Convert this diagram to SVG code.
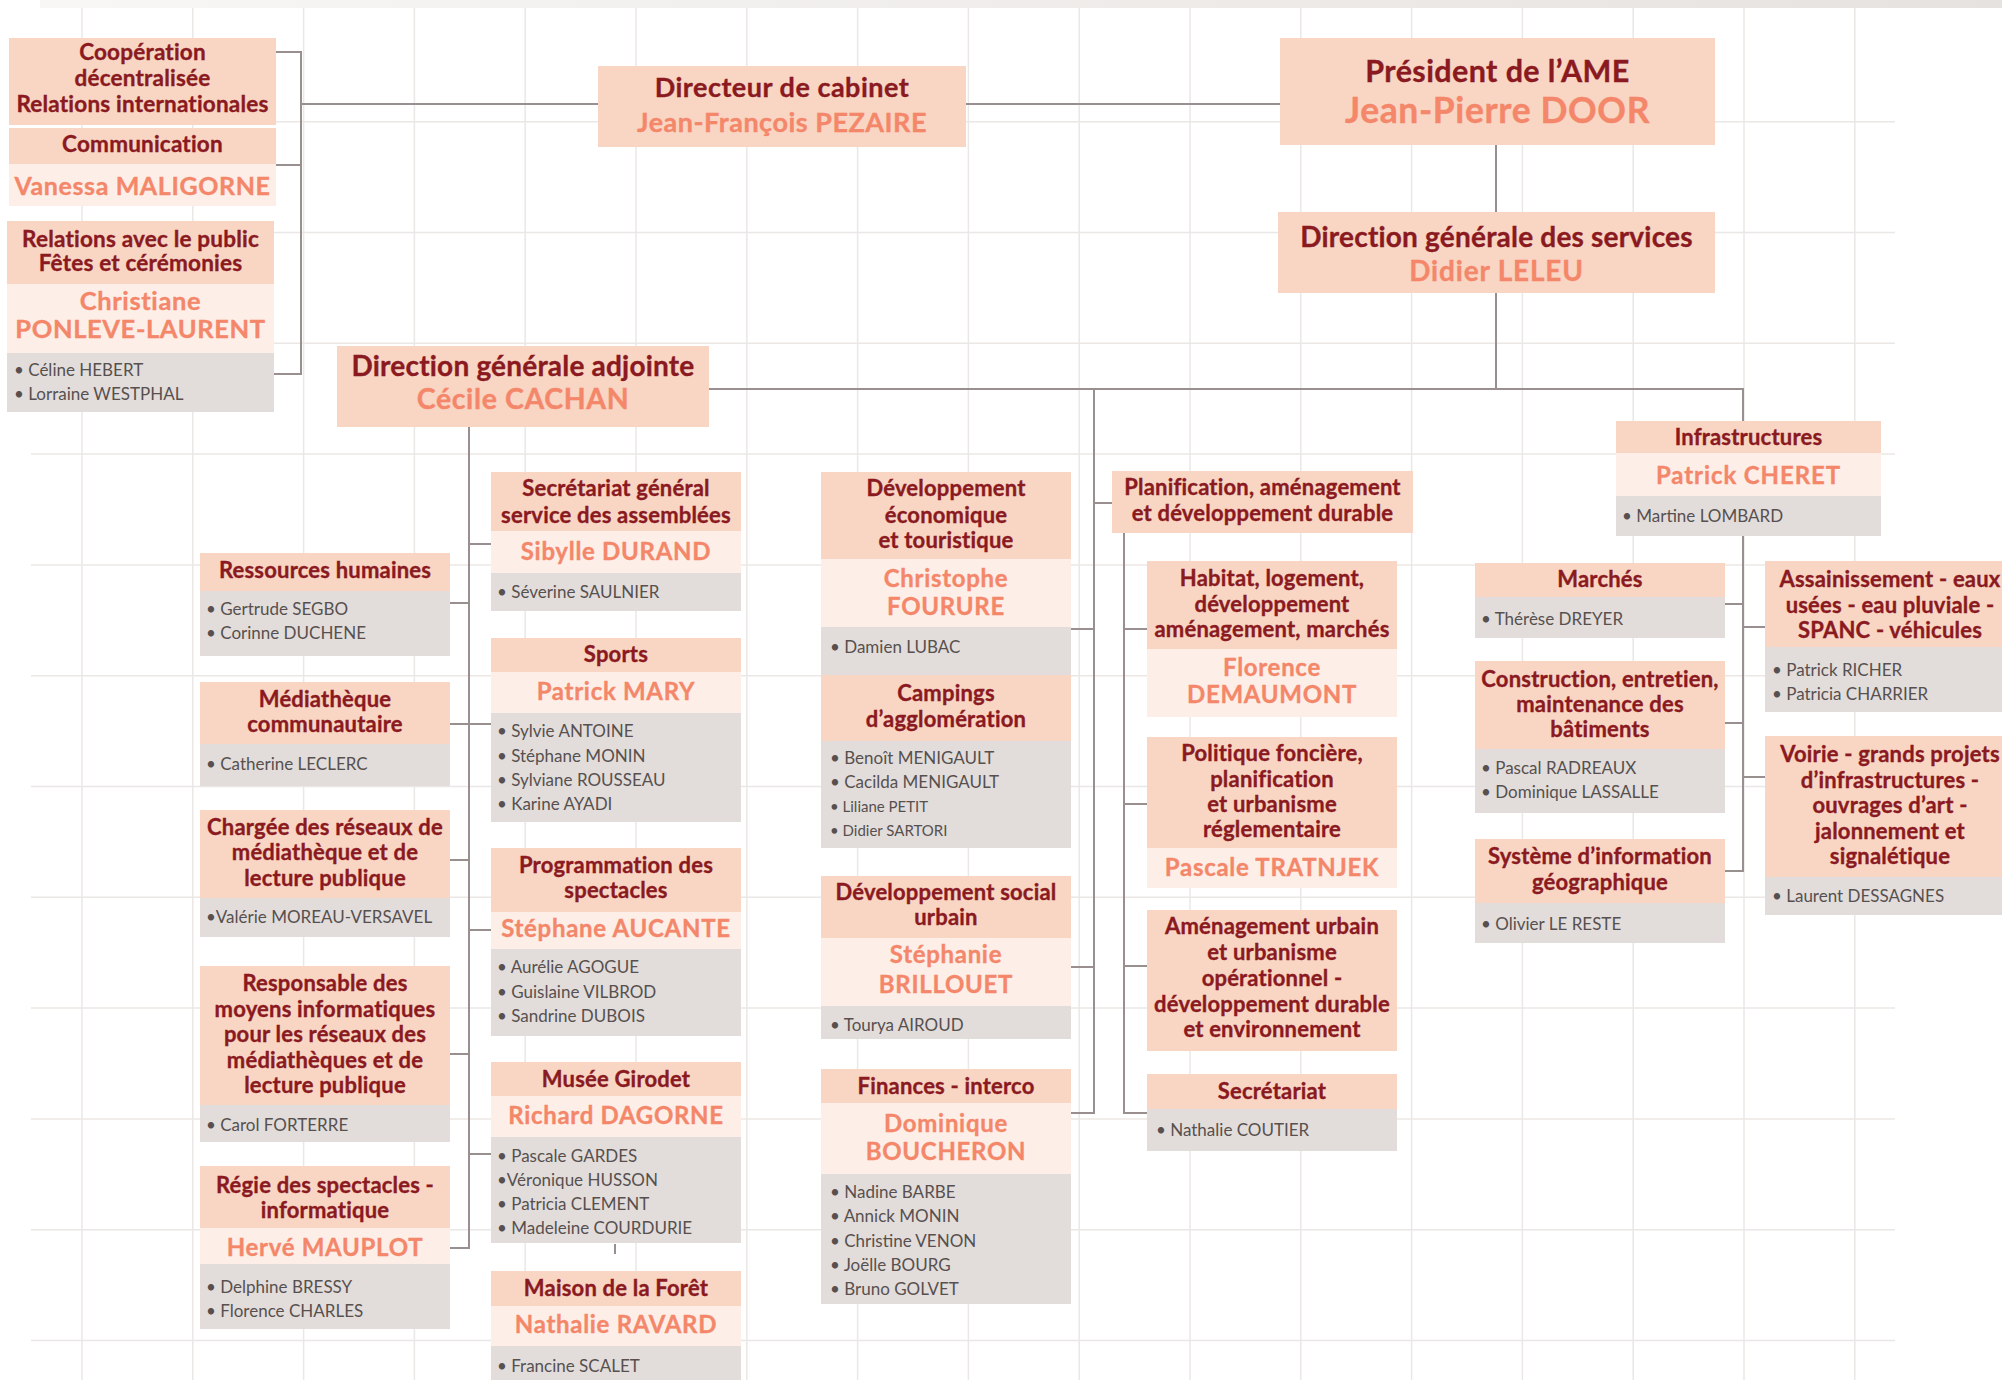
<svg xmlns="http://www.w3.org/2000/svg" width="2002" height="1380" viewBox="0 0 2002 1380">
<defs>
<linearGradient id="topband" x1="0" y1="0" x2="1" y2="0">
<stop offset="0" stop-color="#f8f7f6"/>
<stop offset="1" stop-color="#e6e2df"/>
</linearGradient>
</defs>
<style>
.h{fill:#f9d5c4}
.n{fill:#fdefe8}
.s{fill:#e2dddb}
.t{font-family:Lato,"Liberation Sans",sans-serif;font-weight:700;font-size:22px;letter-spacing:0.2px;fill:#8a1a1f;stroke:#8a1a1f;stroke-width:0.35px;text-anchor:middle}
.nm{font-family:Lato,"Liberation Sans",sans-serif;font-weight:700;font-size:24px;letter-spacing:0.7px;fill:#f4876a;stroke:#f4876a;stroke-width:0.35px;text-anchor:middle}
.st{font-family:Lato,"Liberation Sans",sans-serif;font-weight:400;font-size:17px;fill:#57504f}
.sm{font-size:15px}
.c{stroke:#9a8f8f;stroke-width:2;fill:none}
.g{stroke:#ebe7e5;stroke-width:1.5}
</style>
<rect x="0" y="0" width="2002" height="1380" fill="#ffffff"/>
<rect x="40" y="0" width="1962" height="8" fill="url(#topband)"/>
<g id="grid">
<line class="g" x1="82" y1="8" x2="82" y2="1380"/>
<line class="g" x1="192.8" y1="8" x2="192.8" y2="1380"/>
<line class="g" x1="303.6" y1="8" x2="303.6" y2="1380"/>
<line class="g" x1="414.4" y1="8" x2="414.4" y2="1380"/>
<line class="g" x1="525.2" y1="8" x2="525.2" y2="1380"/>
<line class="g" x1="636" y1="8" x2="636" y2="1380"/>
<line class="g" x1="746.8" y1="8" x2="746.8" y2="1380"/>
<line class="g" x1="857.6" y1="8" x2="857.6" y2="1380"/>
<line class="g" x1="968.4" y1="8" x2="968.4" y2="1380"/>
<line class="g" x1="1079.2" y1="8" x2="1079.2" y2="1380"/>
<line class="g" x1="1190" y1="8" x2="1190" y2="1380"/>
<line class="g" x1="1300.8" y1="8" x2="1300.8" y2="1380"/>
<line class="g" x1="1411.6" y1="8" x2="1411.6" y2="1380"/>
<line class="g" x1="1522.4" y1="8" x2="1522.4" y2="1380"/>
<line class="g" x1="1633.2" y1="8" x2="1633.2" y2="1380"/>
<line class="g" x1="1744" y1="8" x2="1744" y2="1380"/>
<line class="g" x1="1854.8" y1="8" x2="1854.8" y2="1380"/>
<line class="g" x1="31" y1="121.7" x2="1895" y2="121.7"/>
<line class="g" x1="31" y1="232.5" x2="1895" y2="232.5"/>
<line class="g" x1="31" y1="343.3" x2="1895" y2="343.3"/>
<line class="g" x1="31" y1="454.1" x2="1895" y2="454.1"/>
<line class="g" x1="31" y1="564.9" x2="1895" y2="564.9"/>
<line class="g" x1="31" y1="675.7" x2="1895" y2="675.7"/>
<line class="g" x1="31" y1="786.5" x2="1895" y2="786.5"/>
<line class="g" x1="31" y1="897.3" x2="1895" y2="897.3"/>
<line class="g" x1="31" y1="1008.1" x2="1895" y2="1008.1"/>
<line class="g" x1="31" y1="1118.9" x2="1895" y2="1118.9"/>
<line class="g" x1="31" y1="1229.7" x2="1895" y2="1229.7"/>
<line class="g" x1="31" y1="1340.5" x2="1895" y2="1340.5"/>
</g>
<g id="connectors">
<path class="c" d="M276,52 H301 V374 H274 M276,165 H301 M301,104 H598 M966,104 H1280"/>
<path class="c" d="M1496,145 V212 M1496,293 V389 M709,389 H1743 V421"/>
<path class="c" d="M469,427 V1248 H450 M450,603 H469 M469,544 H491 M450,724 H491 M450,860 H469 M469,930 H491 M450,1054 H469 M469,1154 H491 M615,1244 V1254"/>
<path class="c" d="M1094,389 V1113 H1071 M1071,629 H1094 M1071,967 H1094 M1094,503 H1112"/>
<path class="c" d="M1124,533 V1113 H1147 M1124,629 H1147 M1124,804 H1147 M1124,966 H1147"/>
<path class="c" d="M1743,536 V871 H1725 M1725,604 H1743 M1725,723 H1743 M1743,627 H1765 M1743,777 H1765"/>
</g>
<g id="cooperation">
<rect class="h" x="9" y="38" width="267" height="87"/>
<text class="t" x="142.5" y="60" style="font-size:22.5px">Coopération</text>
<text class="t" x="142.5" y="86" style="font-size:22.5px">décentralisée</text>
<text class="t" x="142.5" y="112" style="font-size:22.5px">Relations internationales</text>
</g>
<g id="communication">
<rect class="h" x="9" y="128" width="267" height="36"/>
<text class="t" x="142.5" y="152" style="font-size:22.5px">Communication</text>
<rect class="n" x="9" y="164" width="267" height="42"/>
<text class="nm" x="142.5" y="195" style="font-size:25px;letter-spacing:0.6px">Vanessa MALIGORNE</text>
</g>
<g id="relations-public">
<rect class="h" x="7" y="221" width="267" height="63"/>
<text class="t" x="140.5" y="247" style="font-size:22.5px">Relations avec le public</text>
<text class="t" x="140.5" y="271" style="font-size:22.5px">Fêtes et cérémonies</text>
<rect class="n" x="7" y="284" width="267" height="69"/>
<text class="nm" x="140.5" y="310" style="font-size:25.5px;letter-spacing:0.6px">Christiane</text>
<text class="nm" x="140.5" y="338" style="font-size:25.5px;letter-spacing:0.6px">PONLEVE-LAURENT</text>
<rect class="s" x="7" y="353" width="267" height="59"/>
<text class="st" x="14" y="376">• Céline HEBERT</text>
<text class="st" x="14" y="400">• Lorraine WESTPHAL</text>
</g>
<g id="directeur-cabinet">
<rect class="h" x="598" y="66" width="368" height="81"/>
<text class="t" x="782" y="97" style="font-size:27px;letter-spacing:0.5px">Directeur de cabinet</text>
<text class="nm" x="782" y="132" style="font-size:27px;letter-spacing:0.5px">Jean-François PEZAIRE</text>
</g>
<g id="president">
<rect class="h" x="1280" y="38" width="435" height="107"/>
<text class="t" x="1497.5" y="82" style="font-size:30.5px;letter-spacing:0.4px">Président de l’AME</text>
<text class="nm" x="1497.5" y="123" style="font-size:35.5px;letter-spacing:0.6px">Jean-Pierre DOOR</text>
</g>
<g id="dgs">
<rect class="h" x="1278" y="212" width="437" height="81"/>
<text class="t" x="1496.5" y="247" style="font-size:28px;letter-spacing:0.2px">Direction générale des services</text>
<text class="nm" x="1496.5" y="281" style="font-size:28px;letter-spacing:0.8px">Didier LELEU</text>
</g>
<g id="dga">
<rect class="h" x="337" y="346" width="372" height="81"/>
<text class="t" x="523" y="376" style="font-size:28px;letter-spacing:0.2px">Direction générale adjointe</text>
<text class="nm" x="523" y="409" style="font-size:28.5px;letter-spacing:0.6px">Cécile CACHAN</text>
</g>
<g id="rh">
<rect class="h" x="200" y="553" width="250" height="38"/>
<text class="t" x="325" y="578">Ressources humaines</text>
<rect class="s" x="200" y="591" width="250" height="65"/>
<text class="st" x="206" y="615">• Gertrude SEGBO</text>
<text class="st" x="206" y="639">• Corinne DUCHENE</text>
</g>
<g id="mediatheque">
<rect class="h" x="200" y="682" width="250" height="62"/>
<text class="t" x="325" y="707">Médiathèque</text>
<text class="t" x="325" y="732">communautaire</text>
<rect class="s" x="200" y="744" width="250" height="42"/>
<text class="st" x="206" y="770">• Catherine LECLERC</text>
</g>
<g id="chargee-reseaux">
<rect class="h" x="200" y="810" width="250" height="88"/>
<text class="t" x="325" y="835">Chargée des réseaux de</text>
<text class="t" x="325" y="860">médiathèque et de</text>
<text class="t" x="325" y="886">lecture publique</text>
<rect class="s" x="200" y="898" width="250" height="39"/>
<text class="st" x="206" y="923">•Valérie MOREAU-VERSAVEL</text>
</g>
<g id="responsable-informatique">
<rect class="h" x="200" y="966" width="250" height="139"/>
<text class="t" x="325" y="991">Responsable des</text>
<text class="t" x="325" y="1017">moyens informatiques</text>
<text class="t" x="325" y="1042">pour les réseaux des</text>
<text class="t" x="325" y="1068">médiathèques et de</text>
<text class="t" x="325" y="1093">lecture publique</text>
<rect class="s" x="200" y="1105" width="250" height="37"/>
<text class="st" x="206" y="1131">• Carol FORTERRE</text>
</g>
<g id="regie">
<rect class="h" x="200" y="1166" width="250" height="62"/>
<text class="t" x="325" y="1193">Régie des spectacles -</text>
<text class="t" x="325" y="1218">informatique</text>
<rect class="n" x="200" y="1228" width="250" height="36"/>
<text class="nm" x="325" y="1256">Hervé MAUPLOT</text>
<rect class="s" x="200" y="1264" width="250" height="65"/>
<text class="st" x="206" y="1293">• Delphine BRESSY</text>
<text class="st" x="206" y="1317">• Florence CHARLES</text>
</g>
<g id="secretariat-general">
<rect class="h" x="491" y="472" width="250" height="59"/>
<text class="t" x="616" y="496">Secrétariat général</text>
<text class="t" x="616" y="523">service des assemblées</text>
<rect class="n" x="491" y="531" width="250" height="42"/>
<text class="nm" x="616" y="560">Sibylle DURAND</text>
<rect class="s" x="491" y="573" width="250" height="38"/>
<text class="st" x="497" y="598">• Séverine SAULNIER</text>
</g>
<g id="sports">
<rect class="h" x="491" y="638" width="250" height="34"/>
<text class="t" x="616" y="662">Sports</text>
<rect class="n" x="491" y="672" width="250" height="41"/>
<text class="nm" x="616" y="700">Patrick MARY</text>
<rect class="s" x="491" y="713" width="250" height="109"/>
<text class="st" x="497" y="737">• Sylvie ANTOINE</text>
<text class="st" x="497" y="762">• Stéphane MONIN</text>
<text class="st" x="497" y="786">• Sylviane ROUSSEAU</text>
<text class="st" x="497" y="810">• Karine AYADI</text>
</g>
<g id="programmation">
<rect class="h" x="491" y="848" width="250" height="64"/>
<text class="t" x="616" y="873">Programmation des</text>
<text class="t" x="616" y="898">spectacles</text>
<rect class="n" x="491" y="912" width="250" height="37"/>
<text class="nm" x="616" y="937">Stéphane AUCANTE</text>
<rect class="s" x="491" y="949" width="250" height="87"/>
<text class="st" x="497" y="973">• Aurélie AGOGUE</text>
<text class="st" x="497" y="998">• Guislaine VILBROD</text>
<text class="st" x="497" y="1022">• Sandrine DUBOIS</text>
</g>
<g id="musee-girodet">
<rect class="h" x="491" y="1062" width="250" height="34"/>
<text class="t" x="616" y="1087">Musée Girodet</text>
<rect class="n" x="491" y="1096" width="250" height="41"/>
<text class="nm" x="616" y="1124">Richard DAGORNE</text>
<rect class="s" x="491" y="1137" width="250" height="106"/>
<text class="st" x="497" y="1162">• Pascale GARDES</text>
<text class="st" x="497" y="1186">•Véronique HUSSON</text>
<text class="st" x="497" y="1210">• Patricia CLEMENT</text>
<text class="st" x="497" y="1234">• Madeleine COURDURIE</text>
</g>
<g id="maison-foret">
<rect class="h" x="491" y="1271" width="250" height="35"/>
<text class="t" x="616" y="1296">Maison de la Forêt</text>
<rect class="n" x="491" y="1306" width="250" height="40"/>
<text class="nm" x="616" y="1333">Nathalie RAVARD</text>
<rect class="s" x="491" y="1346" width="250" height="40"/>
<text class="st" x="497" y="1372">• Francine SCALET</text>
</g>
<g id="dev-economique">
<rect class="h" x="821" y="472" width="250" height="87"/>
<text class="t" x="946" y="496">Développement</text>
<text class="t" x="946" y="523">économique</text>
<text class="t" x="946" y="548">et touristique</text>
<rect class="n" x="821" y="559" width="250" height="68"/>
<text class="nm" x="946" y="587">Christophe</text>
<text class="nm" x="946" y="615">FOURURE</text>
<rect class="s" x="821" y="627" width="250" height="48"/>
<text class="st" x="830" y="653">• Damien LUBAC</text>
</g>
<g id="campings">
<rect class="h" x="821" y="675" width="250" height="66"/>
<text class="t" x="946" y="701">Campings</text>
<text class="t" x="946" y="727">d’agglomération</text>
<rect class="s" x="821" y="741" width="250" height="107"/>
<text class="st" x="830" y="764">• Benoît MENIGAULT</text>
<text class="st" x="830" y="788">• Cacilda MENIGAULT</text>
<text class="st sm" x="830" y="812">• Liliane PETIT</text>
<text class="st sm" x="830" y="836">• Didier SARTORI</text>
</g>
<g id="dev-social">
<rect class="h" x="821" y="876" width="250" height="62"/>
<text class="t" x="946" y="900">Développement social</text>
<text class="t" x="946" y="925">urbain</text>
<rect class="n" x="821" y="938" width="250" height="68"/>
<text class="nm" x="946" y="963">Stéphanie</text>
<text class="nm" x="946" y="993">BRILLOUET</text>
<rect class="s" x="821" y="1006" width="250" height="33"/>
<text class="st" x="830" y="1031">• Tourya AIROUD</text>
</g>
<g id="finances">
<rect class="h" x="821" y="1069" width="250" height="34"/>
<text class="t" x="946" y="1094">Finances - interco</text>
<rect class="n" x="821" y="1103" width="250" height="71"/>
<text class="nm" x="946" y="1132">Dominique</text>
<text class="nm" x="946" y="1160">BOUCHERON</text>
<rect class="s" x="821" y="1174" width="250" height="130"/>
<text class="st" x="830" y="1198">• Nadine BARBE</text>
<text class="st" x="830" y="1222">• Annick MONIN</text>
<text class="st" x="830" y="1247">• Christine VENON</text>
<text class="st" x="830" y="1271">• Joëlle BOURG</text>
<text class="st" x="830" y="1295">• Bruno GOLVET</text>
</g>
<g id="planification">
<rect class="h" x="1112" y="471" width="301" height="62"/>
<text class="t" x="1262.5" y="495">Planification, aménagement</text>
<text class="t" x="1262.5" y="521">et développement durable</text>
</g>
<g id="habitat">
<rect class="h" x="1147" y="561" width="250" height="88"/>
<text class="t" x="1272" y="586">Habitat, logement,</text>
<text class="t" x="1272" y="612">développement</text>
<text class="t" x="1272" y="637">aménagement, marchés</text>
<rect class="n" x="1147" y="649" width="250" height="68"/>
<text class="nm" x="1272" y="676">Florence</text>
<text class="nm" x="1272" y="703">DEMAUMONT</text>
</g>
<g id="politique-fonciere">
<rect class="h" x="1147" y="737" width="250" height="111"/>
<text class="t" x="1272" y="761">Politique foncière,</text>
<text class="t" x="1272" y="787">planification</text>
<text class="t" x="1272" y="812">et urbanisme</text>
<text class="t" x="1272" y="837">réglementaire</text>
<rect class="n" x="1147" y="848" width="250" height="40"/>
<text class="nm" x="1272" y="876">Pascale TRATNJEK</text>
</g>
<g id="amenagement-urbain">
<rect class="h" x="1147" y="910" width="250" height="141"/>
<text class="t" x="1272" y="934">Aménagement urbain</text>
<text class="t" x="1272" y="960">et urbanisme</text>
<text class="t" x="1272" y="986">opérationnel -</text>
<text class="t" x="1272" y="1012">développement durable</text>
<text class="t" x="1272" y="1037">et environnement</text>
</g>
<g id="secretariat">
<rect class="h" x="1147" y="1074" width="250" height="35"/>
<text class="t" x="1272" y="1099">Secrétariat</text>
<rect class="s" x="1147" y="1109" width="250" height="42"/>
<text class="st" x="1156" y="1136">• Nathalie COUTIER</text>
</g>
<g id="infrastructures">
<rect class="h" x="1616" y="421" width="265" height="32"/>
<text class="t" x="1748.5" y="445">Infrastructures</text>
<rect class="n" x="1616" y="453" width="265" height="43"/>
<text class="nm" x="1748.5" y="484" style="letter-spacing:0.9px">Patrick CHERET</text>
<rect class="s" x="1616" y="496" width="265" height="40"/>
<text class="st" x="1622" y="522">• Martine LOMBARD</text>
</g>
<g id="marches">
<rect class="h" x="1475" y="563" width="250" height="34"/>
<text class="t" x="1600" y="587">Marchés</text>
<rect class="s" x="1475" y="597" width="250" height="41"/>
<text class="st" x="1481" y="625">• Thérèse DREYER</text>
</g>
<g id="construction">
<rect class="h" x="1475" y="661" width="250" height="88"/>
<text class="t" x="1600" y="687">Construction, entretien,</text>
<text class="t" x="1600" y="712">maintenance des</text>
<text class="t" x="1600" y="737">bâtiments</text>
<rect class="s" x="1475" y="749" width="250" height="64"/>
<text class="st" x="1481" y="774">• Pascal RADREAUX</text>
<text class="st" x="1481" y="798">• Dominique LASSALLE</text>
</g>
<g id="sig">
<rect class="h" x="1475" y="839" width="250" height="64"/>
<text class="t" x="1600" y="864">Système d’information</text>
<text class="t" x="1600" y="890">géographique</text>
<rect class="s" x="1475" y="903" width="250" height="40"/>
<text class="st" x="1481" y="930">• Olivier LE RESTE</text>
</g>
<g id="assainissement">
<rect class="h" x="1765" y="561" width="250" height="86"/>
<text class="t" x="1890" y="587">Assainissement - eaux</text>
<text class="t" x="1890" y="613">usées - eau pluviale -</text>
<text class="t" x="1890" y="638">SPANC - véhicules</text>
<rect class="s" x="1765" y="647" width="250" height="65"/>
<text class="st" x="1772" y="676">• Patrick RICHER</text>
<text class="st" x="1772" y="700">• Patricia CHARRIER</text>
</g>
<g id="voirie">
<rect class="h" x="1765" y="736" width="250" height="141"/>
<text class="t" x="1890" y="762">Voirie - grands projets</text>
<text class="t" x="1890" y="788">d’infrastructures -</text>
<text class="t" x="1890" y="813">ouvrages d’art -</text>
<text class="t" x="1890" y="839">jalonnement et</text>
<text class="t" x="1890" y="864">signalétique</text>
<rect class="s" x="1765" y="877" width="250" height="38"/>
<text class="st" x="1772" y="902">• Laurent DESSAGNES</text>
</g>
</svg>
